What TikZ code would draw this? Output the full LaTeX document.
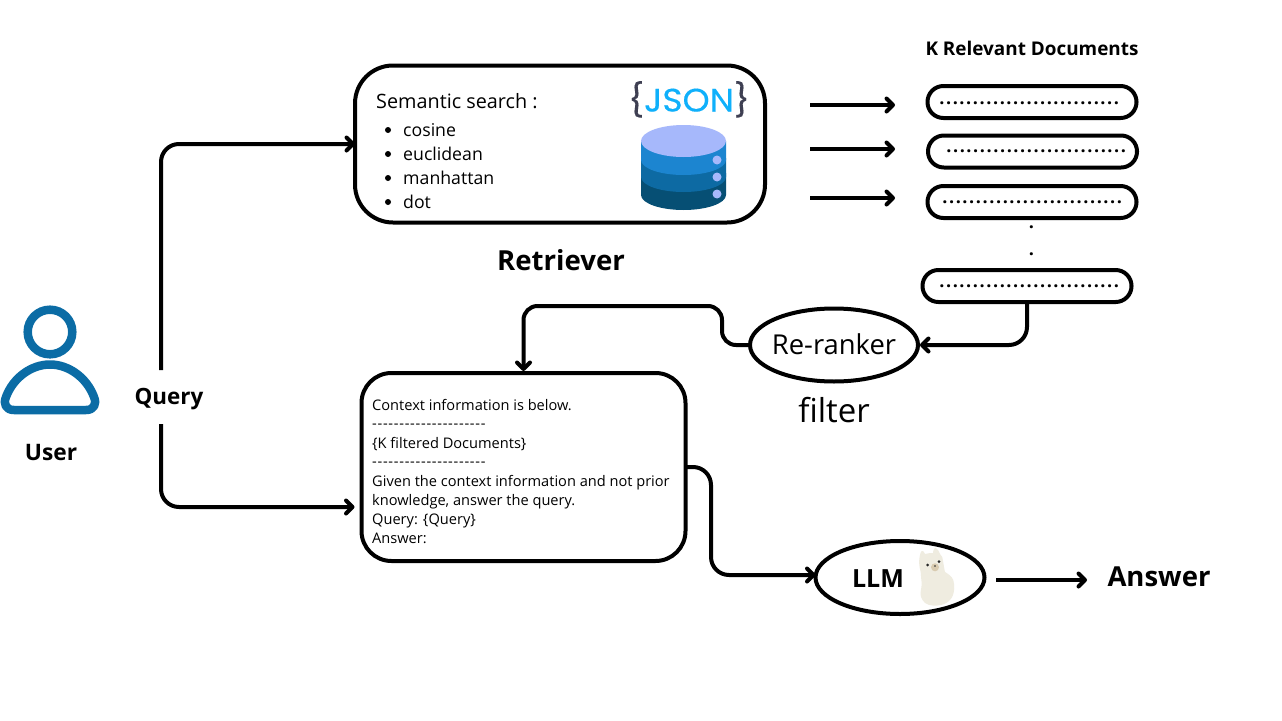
\documentclass[tikz,border=0pt]{standalone}
\usepackage{fontspec}
\setmainfont{Open Sans}
\newfontfamily\jsonfont{Poppins}[FakeBold=0.35,FakeStretch=1.06]
\usetikzlibrary{shapes.geometric,arrows.meta,calc}
\definecolor{userblue}{HTML}{0B6CA5}
\definecolor{dbtop}{HTML}{A6B8FB}
\definecolor{dbone}{HTML}{1C85D0}
\definecolor{dbtwo}{HTML}{0D6AA3}
\definecolor{dbthree}{HTML}{064F74}
\definecolor{jsonblue}{HTML}{0FB0FB}
\definecolor{jsondark}{HTML}{3E3F52}
\definecolor{alpaca}{HTML}{EFECE0}
\definecolor{alpacanose}{HTML}{D9CBB0}
\newcommand{\fs}[1]{\fontsize{#1}{#1}\selectfont}
\newcommand{\docdots}{\fs{18}\addfontfeature{LetterSpace=8.8}\textbf{...........................}}
\newcommand{\dashline}{\addfontfeature{LetterSpace=5}-{}-{}-{}-{}-{}-{}-{}-{}-{}-{}-{}-{}-{}-{}-{}-{}-{}-{}-{}-{}-}
\tikzset{
  x=1pt,y=-1pt,
  conn/.style={line width=4pt,rounded corners=18pt,-{Straight Barb[length=6.5pt,width=13pt,round]}},
  bigbox/.style={draw,line width=4pt,rounded corners=#1,outer sep=0pt,inner sep=0pt},
  docbox/.style={draw,line width=4pt,rounded corners=15.9pt,minimum width=209pt,minimum height=32pt,outer sep=0pt,inner sep=0pt},
  oval/.style={draw,ellipse,line width=4pt,outer sep=0pt,inner sep=0pt},
  lbl/.style={inner sep=0pt,anchor=base west},
  ctr/.style={inner sep=0pt,anchor=base},
}
\begin{document}
\begin{tikzpicture}
\useasboundingbox (0,0) rectangle (1282,720);
\fill[white] (0,0) rectangle (1282,720);
% user icon
\draw[userblue,line width=8.5pt] (50,332) circle (22.3);
\draw[userblue,line width=8.5pt,line join=round]
  (14,410) .. controls (6,410) and (3,404) .. (6,397)
  .. controls (13,378) and (31,364.5) .. (50,364.5)
  .. controls (69,364.5) and (87,378) .. (94,397)
  .. controls (97,404) and (94,410) .. (86,410) -- cycle;
\node[ctr,font=\fs{22.7}\bfseries] (user) at (51,460) {User};
\node[ctr,font=\fs{22.4}\bfseries] (query) at (169,404) {Query};
\coordinate (qtop) at (161,370);
\coordinate (qbot) at (161,424);
% retriever
\node[bigbox=38pt,minimum width=410pt,minimum height=157pt] (retr) at (560,144) {};
\node[lbl,font=\fs{19.8}] (sem) at (376,108) {Semantic search :};
\foreach \n/\t/\yy in {a/cosine/136,b/euclidean/160,c/manhattan/184,d/dot/208}{
  \fill (388,\yy-6) circle (3);
  \node[lbl,font=\fs{17.7}] (item\n) at (403,\yy) {\t};
}
\node[ctr,font=\fs{27.6}\bfseries] (rlabel) at (561,270) {Retriever};
% JSON
\node[ctr,font=\jsonfont\fs{32.5}] (json) at (689,111.5) {\textcolor{jsondark}{\{}\textcolor{jsonblue}{JSON}\textcolor{jsondark}{\}}};
% database
\fill[dbthree] (641,173) -- (641,195) arc[start angle=180,end angle=0,x radius=42.5,y radius=15] -- (726,173) -- cycle;
\fill[dbtwo] (641,158) -- (641,177) arc[start angle=180,end angle=0,x radius=42.5,y radius=15] -- (726,158) -- cycle;
\fill[dbone] (641,141) -- (641,160) arc[start angle=180,end angle=0,x radius=42.5,y radius=15] -- (726,141) -- cycle;
\fill[dbtop] (683.5,141) ellipse[x radius=42.5,y radius=16];
\foreach \yy in {160,177,194} \fill[dbtop] (717,\yy) circle (4.5);
% documents
\node[ctr,font=\fs{18.9}\bfseries] (klabel) at (1032,55.5) {K Relevant Documents};
\node[docbox] (d1) at (1032,102) {};
\node[docbox] (d2) at (1032.5,151.5) {};
\node[docbox] (d3) at (1032,202) {};
\node[docbox] (d4) at (1027,286) {};
\node[inner sep=0pt,anchor=base] (t1) at (1030,104) {\docdots};
\node[inner sep=0pt,anchor=base] (t2) at (1037,152) {\docdots};
\node[inner sep=0pt,anchor=base] (t3) at (1033,203.6) {\docdots};
\node[inner sep=0pt,anchor=base] (t4) at (1030,287) {\docdots};
\node[inner sep=0pt,anchor=base,font=\fs{18}\bfseries] (v1) at (1031.5,228.5) {.};
\node[inner sep=0pt,anchor=base,font=\fs{18}\bfseries] (v2) at (1031.5,255.5) {.};
\foreach \n/\yy in {a/105,b/149,c/198}{
  \coordinate (from\n) at (810,\yy);
  \coordinate (to\n) at (895,\yy);
  \draw[conn] (from\n) -- (to\n);
}
% re-ranker
\node[oval,minimum width=168pt,minimum height=73pt] (rer) at (834,345) {};
\node[inner sep=0pt,font=\fs{27.4}] (rert) at (834,344) {Re-ranker};
\node[inner sep=0pt,font=\fs{33}] (filt) at (834,410) {filter};
% prompt
\node[bigbox=30pt,minimum width=324pt,minimum height=188pt] (prompt) at (523.5,467) {};
\foreach \t/\yy in {Context information is below./410,\dashline/428.5,{\{K filtered Documents\}}/448,\dashline/466.5,Given the context information and not prior/486,{knowledge, answer the query.}/505,{Query: \{Query\}}/524,Answer:/543}{
  \node[lbl,font=\fs{14.6}] at (372,\yy) {\t};
}
% LLM
\node[oval,minimum width=169pt,minimum height=73pt] (llm) at (900,577.5) {};
\node[inner sep=0pt,font=\fs{25}\bfseries] (llmt) at (878,579) {LLM};
\fill[alpaca] (921.7,551) .. controls (923,550) and (924,552) .. (925,554)
  .. controls (928,553) and (931,553) .. (933,553) .. controls (933,550) and (935,547) .. (936,548)
  .. controls (938,549) and (939,552) .. (940,554) .. controls (942,556) and (943,558) .. (943,561)
  .. controls (944,566) and (944,569) .. (945,572) .. controls (950,575) and (954,578) .. (954,584)
  .. controls (955,590) and (953,596) .. (951.5,598) .. controls (949,602) and (945,604) .. (941,605)
  .. controls (936,606) and (929,606) .. (925,603) .. controls (921,599) and (920,595) .. (920.7,592)
  .. controls (921,588) and (922,586) .. (921.7,583) .. controls (921,578) and (921,575) .. (920.7,572)
  .. controls (919,566) and (919,562) .. (919.3,559) .. controls (919.5,556) and (920.5,552) .. (921.7,551) -- cycle;
\fill[alpacanose] (935,567.3) circle (4);
\fill[black!85] (927.7,565) circle (1.5) (939,561.7) circle (1.5) (935,566) circle (0.9);
\node[inner sep=0pt,font=\fs{27.5}\bfseries] (ans) at (1159,577) {Answer};
% connectors
\coordinate (ansfrom) at (996,580);
\coordinate (ansto) at (1087,580);
\draw[conn] (qtop) |- (retr.west);
\draw[conn] (qbot) |- ($(prompt.west)+(-7,40)$);
\draw[conn] (d4.south) |- ($(rer.east)+(2,0)$);
\draw[conn,rounded corners=14pt] (rer.west) -| (722,306) -| ($(prompt.north)+(0,-2)$);
\draw[conn] (prompt.east) -| (711,575) -- (llm.west |- 0,575);
\draw[conn] (ansfrom) -- (ansto);
\end{tikzpicture}
\end{document}
